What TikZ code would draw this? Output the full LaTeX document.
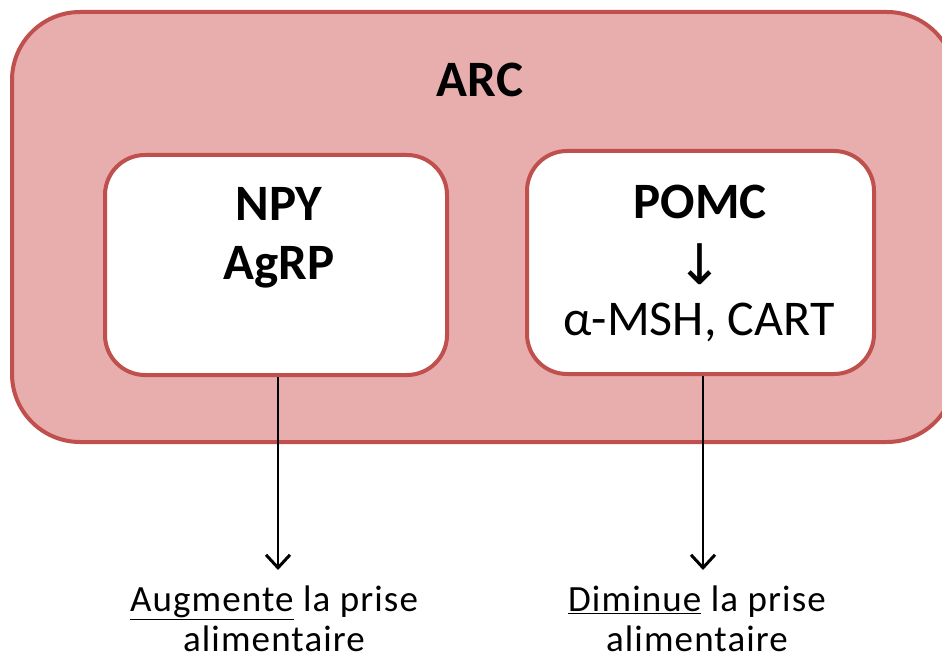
\documentclass[tikz,border=0pt]{standalone}
\usepackage{fontspec}
\setmainfont{Carlito}
\newfontfamily\spacedfont[LetterSpace=3]{Carlito}
\newfontfamily\arrowfont{DejaVu Sans}
\usetikzlibrary{arrows.meta}
\definecolor{arcfill}{HTML}{E8ADAD}
\definecolor{arcline}{HTML}{C0504D}
\tikzset{
  outerbox/.style={draw=arcline, fill=arcfill, line width=4pt, rounded corners=68pt, minimum width=943pt, minimum height=430pt, inner sep=0pt},
  innerbox/.style={draw=arcline, fill=white, line width=4pt, rounded corners=40pt, inner sep=0pt},
  bigbold/.style={font=\fontsize{51}{59}\selectfont\bfseries, align=center, inner sep=0pt},
  bigreg/.style={font=\fontsize{50}{58}\selectfont, inner sep=0pt},
  outtext/.style={font=\spacedfont\fontsize{37}{40}\selectfont, align=center, inner sep=0pt},
  effect/.style={line width=2pt, -{Straight Barb[length=13pt,width=24pt,line width=3pt]}},
}
\begin{document}
\begin{tikzpicture}[x=1pt,y=-1pt]
\useasboundingbox (0,0) rectangle (942,660);
\clip (0,0) rectangle (942,660);
\node[outerbox] (arc) at (483.5,227) {};
\node[bigbold] (arclbl) at (480,80) {ARC};
\node[innerbox, minimum width=342pt, minimum height=220pt] (left) at (276,265) {};
\node[innerbox, minimum width=347pt, minimum height=223pt] (right) at (700.5,262.5) {};
\node[bigbold] (npy) at (279,238) {NPY\\AgRP};
\node[bigbold] (pomc) at (700,202) {POMC};
\node[font=\fontsize{56}{60}\selectfont\arrowfont, inner sep=0pt] (darrow) at (700,264) {↓};
\node[bigreg] (msh) at (699,322) {α-MSH, CART};
\node[outtext, anchor=north] (augm) at (274,586) {\underline{Augmente} la prise\\alimentaire};
\node[outtext, anchor=north] (dimi) at (697,586) {\underline{Diminue} la prise\\alimentaire};
\coordinate (lend) at (278,570);
\coordinate (rend) at (703,570);
\draw[effect] (left.south -| lend) -- (lend);
\draw[effect] (right.south -| rend) -- (rend);
\end{tikzpicture}
\end{document}
